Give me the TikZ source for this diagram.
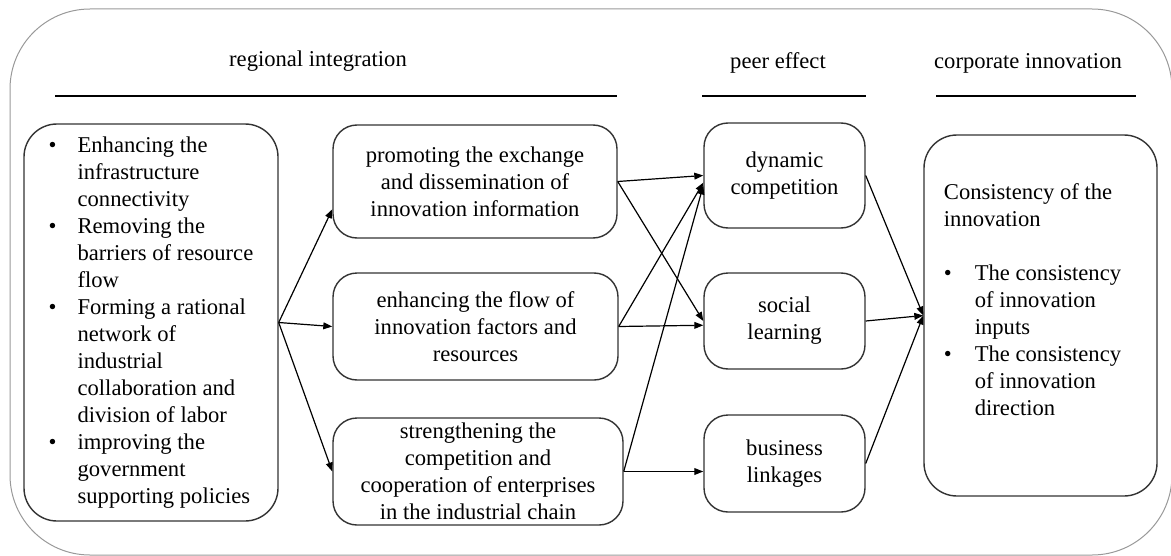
\documentclass[tikz,border=0pt]{standalone}
\usepackage{fontspec}
\setmainfont{Liberation Serif}
\usepackage{tikz}
\usetikzlibrary{arrows.meta}

\begin{document}
\begin{tikzpicture}[x=0.5pt,y=-0.5pt,
                every node/.style={font=\fontsize{11.3}{13.5}\selectfont},
                box/.style={draw=black!80,line width=0.7pt,rounded corners=12pt,inner sep=1pt,align=center},
                bigbox/.style={box,rounded corners=16.5pt},
                link/.style={line width=0.6pt,-{Triangle[length=4.5pt,width=3.4pt]}},
                rule/.style={line width=1pt},
                frame/.style={draw=black!40,line width=0.5pt,rounded corners=40pt}]
                \useasboundingbox (0,0) rectangle (1171,556);
                \draw[frame] (10,9) rectangle (1172,555);

                \node (ri) at (318,61) {regional integration};
                \node (pe) at (778,63) {peer effect};
                \node (ci) at (1028,63) {corporate innovation};

                \draw[rule] (55,96) -- (617,96);
                \draw[rule] (702,96) -- (866,96);
                \draw[rule] (936,96) -- (1136,96);

                \node[bigbox,minimum width=127pt,minimum height=198.5pt] (L) at (151,322.5)
                    {\begin{tabular}{@{}l@{\hspace{10.5pt}}l@{}}
                        \textbullet & Enhancing the\\
                                    & infrastructure\\
                                    & connectivity\\
                        \textbullet & Removing the\\
                                    & barriers of resource\\
                                    & flow\\
                        \textbullet & Forming a rational\\
                                    & network of\\
                                    & industrial\\
                                    & collaboration and\\
                                    & division of labor\\
                        \textbullet & improving the\\
                                    & government\\
                                    & supporting policies
                    \end{tabular}};

                \node[box,minimum width=142pt,minimum height=56.5pt] (B1) at (475,181.5)
                    {promoting the exchange\\and dissemination of\\innovation information};
                \node[box,minimum width=142.5pt,minimum height=53.5pt] (B2) at (475.5,326.5)
                    {enhancing the flow of\\innovation factors and\\resources};
                \node[box,minimum width=145pt,minimum height=53.5pt,inner ysep=0pt] (B3) at (478,471.5)
                    {strengthening the\\competition and\\cooperation of enterprises\\in the industrial chain};

                \node[box,minimum width=80.5pt,minimum height=52.5pt] (P1) at (784.5,175.5) {dynamic\\competition};
                \node[box,minimum width=80.5pt,minimum height=48pt] (P2) at (784.5,321) {social\\learning};
                \node[box,minimum width=80.5pt,minimum height=48.5pt] (P3) at (784.5,463.5) {business\\linkages};

                \node[bigbox,minimum width=116.5pt,minimum height=180.5pt] (F) at (1040.5,315.5)
                    {\begin{tabular}{@{}l@{\hspace{11.5pt}}l@{\hspace{8pt}}}
                        \multicolumn{2}{@{}l@{}}{Consistency of the}\\
                        \multicolumn{2}{@{}l@{}}{innovation}\\
                        \\
                        \textbullet & The consistency\\
                                    & of innovation\\
                                    & inputs\\
                        \textbullet & The consistency\\
                                    & of innovation\\
                                    & direction\\
                        \mbox{}
                    \end{tabular}};

                \draw[link] (L.east) -- (B1.191);
                \draw[link] (L.east) -- (B2.west);
                \draw[link] (L.east) -- (B3.west);

                \draw[link] (B1.east) -- (P1.west);
                \draw[link] (B1.east) -- (P2.west);
                \draw[link] (B2.east) -- (P1.185);
                \draw[link] (B2.east) -- (P2.183);
                \draw[link] (B3.east) -- (P1.187);
                \draw[link] (B3.east) -- (B3.east -| P3.west);

                \draw[link] (P1.east) -- (F.west);
                \draw[link] (P2.east) -- (F.west);
                \draw[link] (P3.east) -- (F.west);
            \end{tikzpicture}
\end{document}
